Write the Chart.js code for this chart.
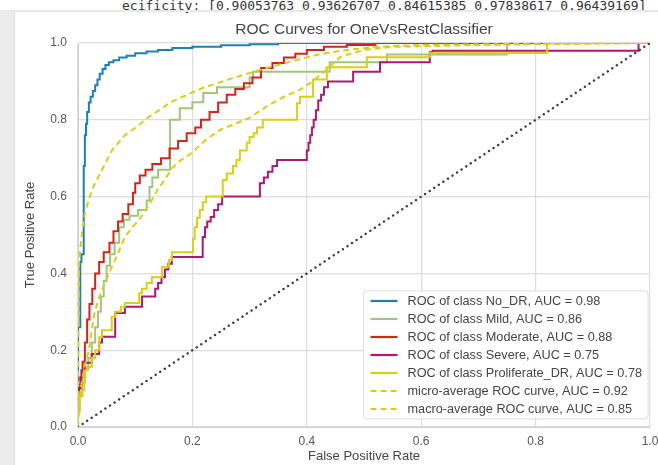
<!DOCTYPE html>
<html>
<head>
<meta charset="utf-8">
<script src="https://cdn.jsdelivr.net/npm/chart.js@4.4.1/dist/chart.umd.min.js"></script>
<style>
  body { margin: 0; background: #fff; }
  #wrap { position: relative; width: 658px; height: 465px; overflow: hidden; background: #fff; }
  #out { position: absolute; left: 122px; top: -2px; font: 13px "DejaVu Sans Mono", monospace; color: #333; white-space: pre; line-height: 15px; }
  #band { position: absolute; left: 0; top: 11px; width: 14px; height: 454px; background: #ececec; border-right: 1px solid #e0e0e0; }
  #topline { position: absolute; left: 0; top: 10px; width: 658px; height: 2px; background: #e8e8e8; }
  canvas { position: absolute; left: 0; top: 0; }
</style>
</head>
<body>
<div id="wrap">
  <div id="out">ecificity: [0.90053763 0.93626707 0.84615385 0.97838617 0.96439169]</div>
  <div id="topline"></div>
  <div id="band"></div>
  <canvas id="rocChart" width="658" height="465"></canvas>
</div>
<script>
// class names and AUC values from the legend
const classNames = ['No_DR', 'Mild', 'Moderate', 'Severe', 'Proliferate_DR'];
const classAuc = [0.98, 0.86, 0.88, 0.75, 0.78];
const microAuc = 0.92;
const macroAuc = 0.85;
const axisTicks = [0, 0.2, 0.4, 0.6, 0.8, 1.0];
const chartTitle = 'ROC Curves for OneVsRestClassifier';

// [fpr, tpr] pairs
const rocNoDR = [[0,0],[0,0.24],[0.004,0.26],[0.006,0.43],[0.01,0.45],[0.012,0.68],[0.014,0.76],[0.016,0.79],[0.019,0.82],
  [0.022,0.845],[0.026,0.86],[0.03,0.875],[0.034,0.89],[0.038,0.905],[0.043,0.92],[0.048,0.932],[0.054,0.943],[0.062,0.95],
  [0.072,0.955],[0.085,0.962],[0.1,0.967],[0.12,0.973],[0.14,0.978],[0.165,0.982],[0.2,0.987],[0.25,0.99],[0.3,0.994],
  [0.35,0.997],[0.4,1],[1,1]];

const rocMild = [[0,0],[0.003,0.04],[0.007,0.08],[0.012,0.115],[0.018,0.15],[0.024,0.18],[0.03,0.22],[0.035,0.26],[0.04,0.3],
  [0.045,0.34],[0.05,0.38],[0.056,0.42],[0.064,0.45],[0.072,0.48],[0.08,0.52],[0.09,0.54],[0.105,0.55],[0.12,0.565],
  [0.125,0.59],[0.13,0.625],[0.14,0.65],[0.15,0.67],[0.161,0.67],[0.161,0.8],[0.178,0.8],[0.178,0.83],[0.2,0.83],
  [0.2,0.846],[0.219,0.846],[0.219,0.87],[0.243,0.87],[0.243,0.885],[0.3,0.885],[0.306,0.91],[0.319,0.925],[0.44,0.925],
  [0.44,0.95],[0.54,0.95],[0.54,0.97],[0.75,0.97],[0.75,0.99],[1,1]];

const rocModerate = [[0,0],[0,0.06],[0.004,0.1],[0.008,0.13],[0.012,0.17],[0.016,0.22],[0.02,0.28],[0.025,0.32],[0.03,0.36],
  [0.037,0.4],[0.045,0.43],[0.055,0.455],[0.062,0.48],[0.07,0.51],[0.078,0.535],[0.088,0.555],[0.096,0.58],[0.1,0.61],
  [0.108,0.635],[0.118,0.655],[0.13,0.67],[0.145,0.685],[0.16,0.7],[0.175,0.725],[0.19,0.745],[0.205,0.765],[0.215,0.78],
  [0.23,0.8],[0.245,0.82],[0.26,0.845],[0.275,0.865],[0.29,0.88],[0.305,0.895],[0.32,0.91],[0.34,0.935],[0.36,0.948],
  [0.38,0.962],[0.4,0.972],[0.43,0.982],[0.47,0.99],[0.52,0.995],[0.55,1],[1,1]];

const rocSevere = [[0,0],[0.002,0.08],[0.006,0.11],[0.012,0.148],[0.024,0.167],[0.037,0.19],[0.042,0.22],[0.047,0.235],
  [0.065,0.235],[0.065,0.297],[0.082,0.297],[0.082,0.313],[0.112,0.313],[0.112,0.34],[0.135,0.34],[0.14,0.36],[0.146,0.375],
  [0.152,0.39],[0.158,0.41],[0.164,0.425],[0.17,0.443],[0.218,0.443],[0.218,0.47],[0.222,0.495],[0.226,0.52],[0.232,0.535],
  [0.238,0.547],[0.245,0.565],[0.252,0.58],[0.26,0.6],[0.318,0.6],[0.318,0.62],[0.325,0.635],[0.332,0.65],[0.34,0.665],
  [0.348,0.68],[0.353,0.695],[0.4,0.695],[0.403,0.72],[0.406,0.74],[0.409,0.76],[0.412,0.78],[0.416,0.8],[0.42,0.825],
  [0.425,0.85],[0.43,0.865],[0.437,0.885],[0.458,0.9],[0.481,0.9],[0.481,0.925],[0.528,0.925],[0.53,0.95],[0.615,0.95],
  [0.62,0.976],[0.98,0.98],[1,1]];

const rocProliferate = [[0,0],[0.002,0.05],[0.008,0.08],[0.011,0.096],[0.016,0.148],[0.024,0.156],[0.03,0.18],[0.037,0.2],
  [0.042,0.234],[0.047,0.252],[0.059,0.252],[0.065,0.287],[0.075,0.3],[0.082,0.313],[0.107,0.323],[0.112,0.348],[0.12,0.36],
  [0.129,0.375],[0.147,0.39],[0.159,0.417],[0.164,0.435],[0.17,0.455],[0.201,0.455],[0.204,0.49],[0.208,0.52],[0.213,0.545],
  [0.218,0.565],[0.224,0.585],[0.23,0.6],[0.253,0.6],[0.26,0.643],[0.271,0.66],[0.277,0.68],[0.283,0.695],[0.295,0.72],
  [0.3,0.74],[0.307,0.755],[0.313,0.765],[0.323,0.78],[0.336,0.8],[0.383,0.8],[0.388,0.843],[0.393,0.86],[0.411,0.86],
  [0.411,0.895],[0.435,0.905],[0.435,0.925],[0.446,0.937],[0.505,0.937],[0.51,0.963],[0.615,0.963],[0.62,0.974],
  [0.82,0.974],[0.82,0.995],[1,1]];

const rocMicro = [[0,0],[0.001,0.25],[0.002,0.44],[0.007,0.505],[0.012,0.557],[0.024,0.617],[0.042,0.67],[0.059,0.72],
  [0.082,0.76],[0.107,0.787],[0.126,0.81],[0.145,0.828],[0.161,0.845],[0.18,0.858],[0.201,0.872],[0.22,0.884],[0.243,0.895],
  [0.265,0.906],[0.289,0.917],[0.31,0.926],[0.33,0.935],[0.355,0.945],[0.383,0.956],[0.42,0.97],[0.46,0.98],[0.52,0.99],
  [0.6,0.995],[0.8,0.998],[1,1]];

const rocMacro = [[0,0],[0.002,0.05],[0.004,0.09],[0.007,0.12],[0.012,0.16],[0.019,0.2],[0.025,0.26],[0.03,0.305],[0.04,0.35],
  [0.047,0.375],[0.057,0.41],[0.065,0.435],[0.075,0.47],[0.082,0.495],[0.095,0.52],[0.107,0.54],[0.126,0.583],[0.14,0.62],
  [0.152,0.645],[0.165,0.675],[0.18,0.695],[0.2,0.715],[0.225,0.75],[0.25,0.775],[0.275,0.79],[0.3,0.805],[0.33,0.835],
  [0.36,0.86],[0.39,0.88],[0.41,0.9],[0.43,0.925],[0.46,0.965],[0.5,0.982],[0.55,0.99],[0.7,0.995],[1,1]];

const chanceLine = [[0,0],[1,1]];

const classCurves = [rocNoDR, rocMild, rocModerate, rocSevere, rocProliferate];
const classColors = ['#1c80b4', '#a0c67c', '#d3241a', '#aa1a74', '#d8cf18'];
const avgColor = '#d9cc1a';
const fontFamily = '"Liberation Sans", Arial, sans-serif';

const toPoints = arr => arr.map(([x, y]) => ({ x, y }));

const datasets = classCurves.map((curve, i) => ({
  label: `ROC of class ${classNames[i]}, AUC = ${classAuc[i].toFixed(2)}`,
  data: toPoints(curve),
  borderColor: classColors[i],
  borderWidth: 2,
  stepped: 'after'
}));

datasets.push({
  label: `micro-average ROC curve, AUC = ${microAuc.toFixed(2)}`,
  data: toPoints(rocMicro),
  borderColor: avgColor,
  borderWidth: 2,
  borderDash: [6, 4]
});
datasets.push({
  label: `macro-average ROC curve, AUC = ${macroAuc.toFixed(2)}`,
  data: toPoints(rocMacro),
  borderColor: avgColor,
  borderWidth: 2,
  borderDash: [6, 4]
});
datasets.push({
  data: toPoints(chanceLine),
  borderColor: '#3c3c3c',
  borderWidth: 2.4,
  borderDash: [0.1, 5.4],
  borderCapStyle: 'round'
});

// later datasets on top, like matplotlib
datasets.forEach((d, i) => { d.order = datasets.length - i; });

// title centred over the plot area, not the whole canvas
const plotTitle = {
  id: 'plotTitle',
  afterDraw(chart) {
    const { ctx, chartArea } = chart;
    ctx.save();
    ctx.font = '15.5px ' + fontFamily;
    ctx.fillStyle = '#444';
    ctx.textAlign = 'center';
    ctx.textBaseline = 'middle';
    ctx.fillText(chartTitle, (chartArea.left + chartArea.right) / 2, 30);
    ctx.restore();
  }
};

// legend box in the lower right of the plot
const rocLegend = {
  id: 'rocLegend',
  afterDraw(chart) {
    const { ctx, chartArea } = chart;
    const items = chart.data.datasets.filter(d => d.label);
    ctx.save();
    ctx.font = '12.7px ' + fontFamily;
    const textW = Math.max(...items.map(d => ctx.measureText(d.label).width));
    const rowH = 18;
    const w = 44 + textW + 6;
    const h = items.length * rowH + 2;
    const x0 = chartArea.right - 2 - w;
    const y0 = chartArea.bottom - 8 - h;
    ctx.fillStyle = 'rgba(255,255,255,0.95)';
    ctx.strokeStyle = '#dddddd';
    ctx.lineWidth = 1;
    ctx.beginPath();
    ctx.roundRect(x0, y0, w, h, 3);
    ctx.fill();
    ctx.stroke();
    items.forEach((d, i) => {
      const y = y0 + 10 + rowH * i;
      ctx.strokeStyle = d.borderColor;
      ctx.lineWidth = 2.2;
      ctx.setLineDash(d.borderDash || []);
      ctx.beginPath();
      ctx.moveTo(x0 + 7, y);
      ctx.lineTo(x0 + 34, y);
      ctx.stroke();
      ctx.setLineDash([]);
      ctx.fillStyle = '#444';
      ctx.textBaseline = 'middle';
      ctx.fillText(d.label, x0 + 44, y);
    });
    ctx.restore();
  }
};

const ctx = document.getElementById('rocChart').getContext('2d');
new Chart(ctx, {
  type: 'line',
  data: { datasets },
  options: {
    responsive: false,
    animation: false,
    layout: { autoPadding: false, padding: { left: 0, right: 8, top: 43, bottom: 0 } },
    elements: { point: { radius: 0 }, line: { tension: 0 } },
    plugins: {
      legend: { display: false },
      tooltip: { enabled: false },
      title: { display: false }
    },
    scales: {
      x: {
        type: 'linear',
        min: 0,
        max: 1,
        afterBuildTicks: s => { s.ticks = axisTicks.map(v => ({ value: v })); },
        afterFit: s => { s.height = 38; s.paddingLeft = 0; s.paddingRight = 0; },
        ticks: { color: '#555', font: { family: fontFamily, size: 12 }, padding: 7, callback: v => v.toFixed(1) },
        grid: { color: '#dcdcdc', lineWidth: 1.2, drawTicks: false },
        border: { color: '#d0d0d0' },
        title: { display: true, text: 'False Positive Rate', color: '#444', font: { family: fontFamily, size: 13 }, padding: { top: 0, bottom: 1 } }
      },
      y: {
        type: 'linear',
        min: 0,
        max: 1,
        afterBuildTicks: s => { s.ticks = axisTicks.map(v => ({ value: v })); },
        afterFit: s => { s.width = 78; s.paddingTop = 0; s.paddingBottom = 0; },
        ticks: { color: '#555', font: { family: fontFamily, size: 12 }, padding: 11, callback: v => v.toFixed(1) },
        grid: { color: '#dcdcdc', lineWidth: 1.2, drawTicks: false },
        border: { color: '#d0d0d0' },
        title: { display: true, text: 'True Positive Rate', color: '#444', font: { family: fontFamily, size: 13 }, padding: { top: 23, bottom: 0 } }
      }
    }
  },
  plugins: [plotTitle, rocLegend]
});
</script>
</body>
</html>
